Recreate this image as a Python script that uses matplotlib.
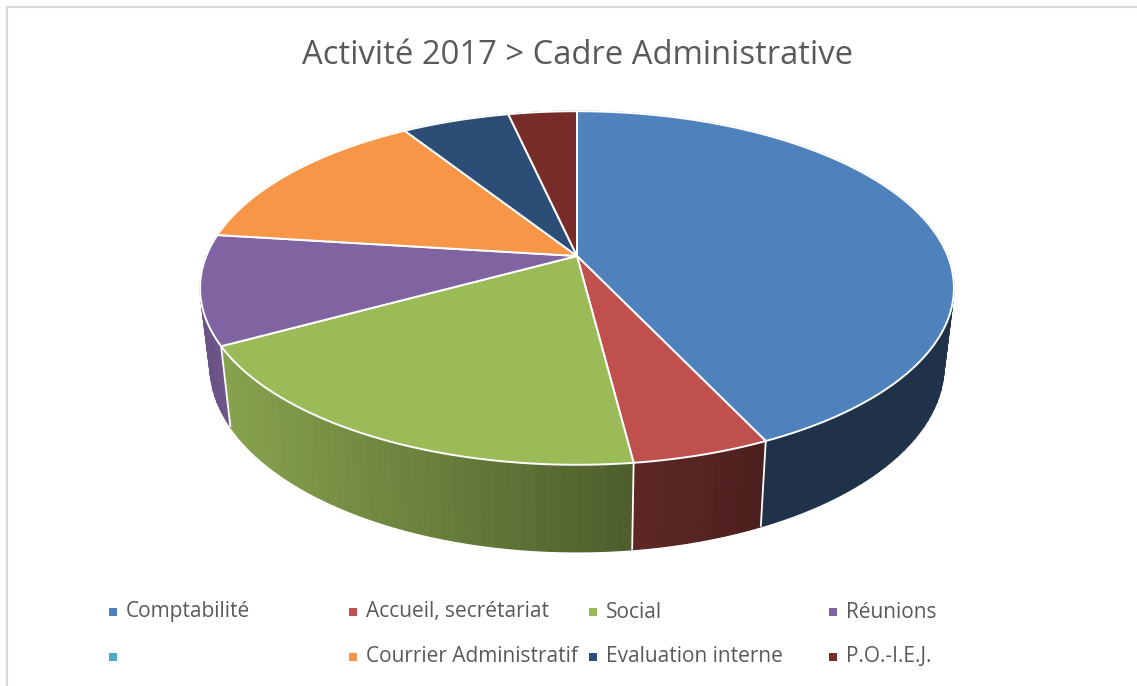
import numpy as np
import matplotlib.pyplot as plt
from matplotlib.patches import Polygon, Rectangle

# share of each activity, in percent
categories = ["Comptabilité", "Accueil, secrétariat", "Social", "Réunions", "",
              "Courrier Administratif", "Evaluation interne", "P.O.-I.E.J."]
values = [43, 5, 19, 10, 0, 14, 5.5, 3.5]
colors = ["#4f81bd", "#c0504d", "#9bbb59", "#8064a2", "#4bacc6", "#f79646", "#2c4d75", "#772c2a"]

title = "Activité 2017 > Cadre Administrative"
FONT = "Open Sans"
TEXT_GREY = "#595959"

# perspective of the disc, in pixels
CX = 577
TILT = 0.181


def rim(angle, radius, height, cy):
    # angle is clockwise from the top of the pie
    u = np.sin(angle)
    v = np.cos(angle)
    w = 1 + TILT * v
    return CX + radius * u / w, cy - height * v / w


def top_rim(angle):
    return rim(angle, 370.7, 171, 256)


def bottom_rim(angle):
    return rim(angle, 361, 180, 332)


def side_shade(x):
    # side wall gets darker from left to right
    return np.interp(x, [205, 220, 630, 770, 955], [0.82, 0.87, 0.5, 0.39, 0.39])


fig = plt.figure(figsize=(11.37, 6.86), dpi=100)
ax = fig.add_axes([0, 0, 1, 1])
ax.set_xlim(0, 1137)
ax.set_ylim(686, 0)
ax.axis("off")

# chart frame, only top and left are visible
ax.plot([7, 7, 1137], [686, 7, 7], color="#d9d9d9", lw=1.6, zorder=1)

edges = np.radians(np.concatenate([[0], np.cumsum(values)]) * 3.6)

# side wall
for i in range(len(values)):
    if values[i] == 0:
        continue
    base = np.array(plt.matplotlib.colors.to_rgb(colors[i]))
    steps = np.linspace(edges[i], edges[i + 1], max(int(values[i] * 2), 2) + 1)
    for a, b in zip(steps[:-1], steps[1:]):
        xt0, yt0 = top_rim(a)
        xt1, yt1 = top_rim(b)
        c = base * side_shade((xt0 + xt1) / 2)
        # short arc along the bottom so the outline stays round
        arc = np.linspace(b, a, 8)
        xb, yb = bottom_rim(arc)
        pts = [(xt0, yt0), (xt1, yt1)] + list(zip(xb, yb))
        ax.add_patch(Polygon(pts, facecolor=c, edgecolor=c, lw=0.9, zorder=2))

# white separators on the side wall
for a in edges[:-1]:
    xt, yt = top_rim(a)
    xb, yb = bottom_rim(a)
    ax.plot([xt, xb], [yt, yb], color="white", lw=1.3, zorder=3, solid_capstyle="butt")

# top face
for i in range(len(values)):
    if values[i] == 0:
        continue
    steps = np.linspace(edges[i], edges[i + 1], 120)
    xs, ys = top_rim(steps)
    pts = [(CX, 256)] + list(zip(xs, ys))
    ax.add_patch(Polygon(pts, closed=True, facecolor=colors[i], edgecolor="white",
                         lw=1.4, joinstyle="round", zorder=4))

ax.text(578, 56, title, ha="center", va="center", fontsize=23.6, color=TEXT_GREY, family=FONT)

# legend, two rows of four
swatch_x = [109, 349, 589, 829]
row_y = [612, 657]
for i, name in enumerate(categories):
    col = i % 4
    row = i // 4
    ax.add_patch(Rectangle((swatch_x[col], row_y[row] - 4), 8, 8, facecolor=colors[i],
                           edgecolor="none", zorder=5))
    if name:
        ax.text(swatch_x[col] + 17, row_y[row], name, ha="left", va="center",
                fontsize=15, color=TEXT_GREY, family=FONT)

fig.savefig("out.png", dpi=100)
